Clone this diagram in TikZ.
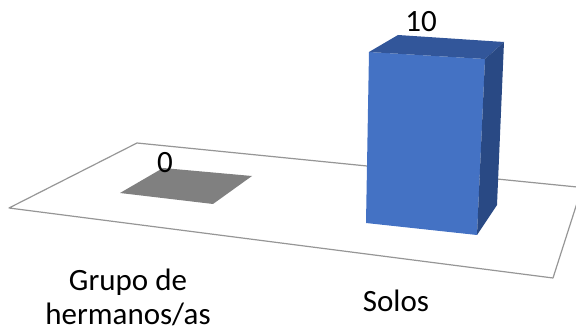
\documentclass[tikz,border=0pt]{standalone}
\usepackage{fontspec}
\setmainfont{Carlito}
\definecolor{floorline}{RGB}{150,150,150}
\definecolor{zerogray}{RGB}{128,128,128}
\definecolor{barfront}{RGB}{68,114,196}
\definecolor{bartop}{RGB}{50,86,154}
\definecolor{barside}{RGB}{41,73,132}
\tikzset{
  lbl/.style={inner sep=0pt, font=\fontsize{31}{34}\selectfont, text=black},
  floorstyle/.style={draw=floorline, line width=1.2pt, line join=round},
}
\begin{document}
\begin{tikzpicture}[x=1pt,y=-1pt]
\useasboundingbox (0,0) rectangle (576,331);
\begin{scope}
\clip (0,0) rectangle (576,331);
% floor
\coordinate (fl) at (9,208);
\coordinate (bl) at (137,143);
\coordinate (br) at (582,187.5);
\coordinate (fr) at (553,278);
\draw[floorstyle] (fl) -- (bl) -- (br) -- (fr) -- cycle;
\end{scope}
% zero bar
\fill[zerogray] (120,193) -- (163,168) -- (252,176) -- (213,204) -- cycle;
% blue bar
\coordinate (tfl) at (369,52);
\coordinate (tfr) at (485,59);
\coordinate (tbr) at (504,42);
\coordinate (tbl) at (398,35);
\coordinate (bfl) at (366,223);
\coordinate (bfr) at (477,235);
\coordinate (bbr) at (497,205);
\fill[barfront] (tfl) -- (tfr) -- (bfr) -- (bfl) -- cycle;
\fill[bartop] (tfl) -- (tbl) -- (tbr) -- (tfr) -- cycle;
\fill[barside] (tfr) -- (tbr) -- (bbr) -- (bfr) -- cycle;
% labels
\node[lbl, anchor=base] (v0) at (165,173) {0};
\node[lbl, anchor=base] (v10) at (421,32) {10};
\node[lbl, anchor=center, align=center] (c1) at (128,297) {Grupo de\\hermanos/as};
\node[lbl, anchor=base] (c2) at (396,312) {Solos};
\end{tikzpicture}
\end{document}
